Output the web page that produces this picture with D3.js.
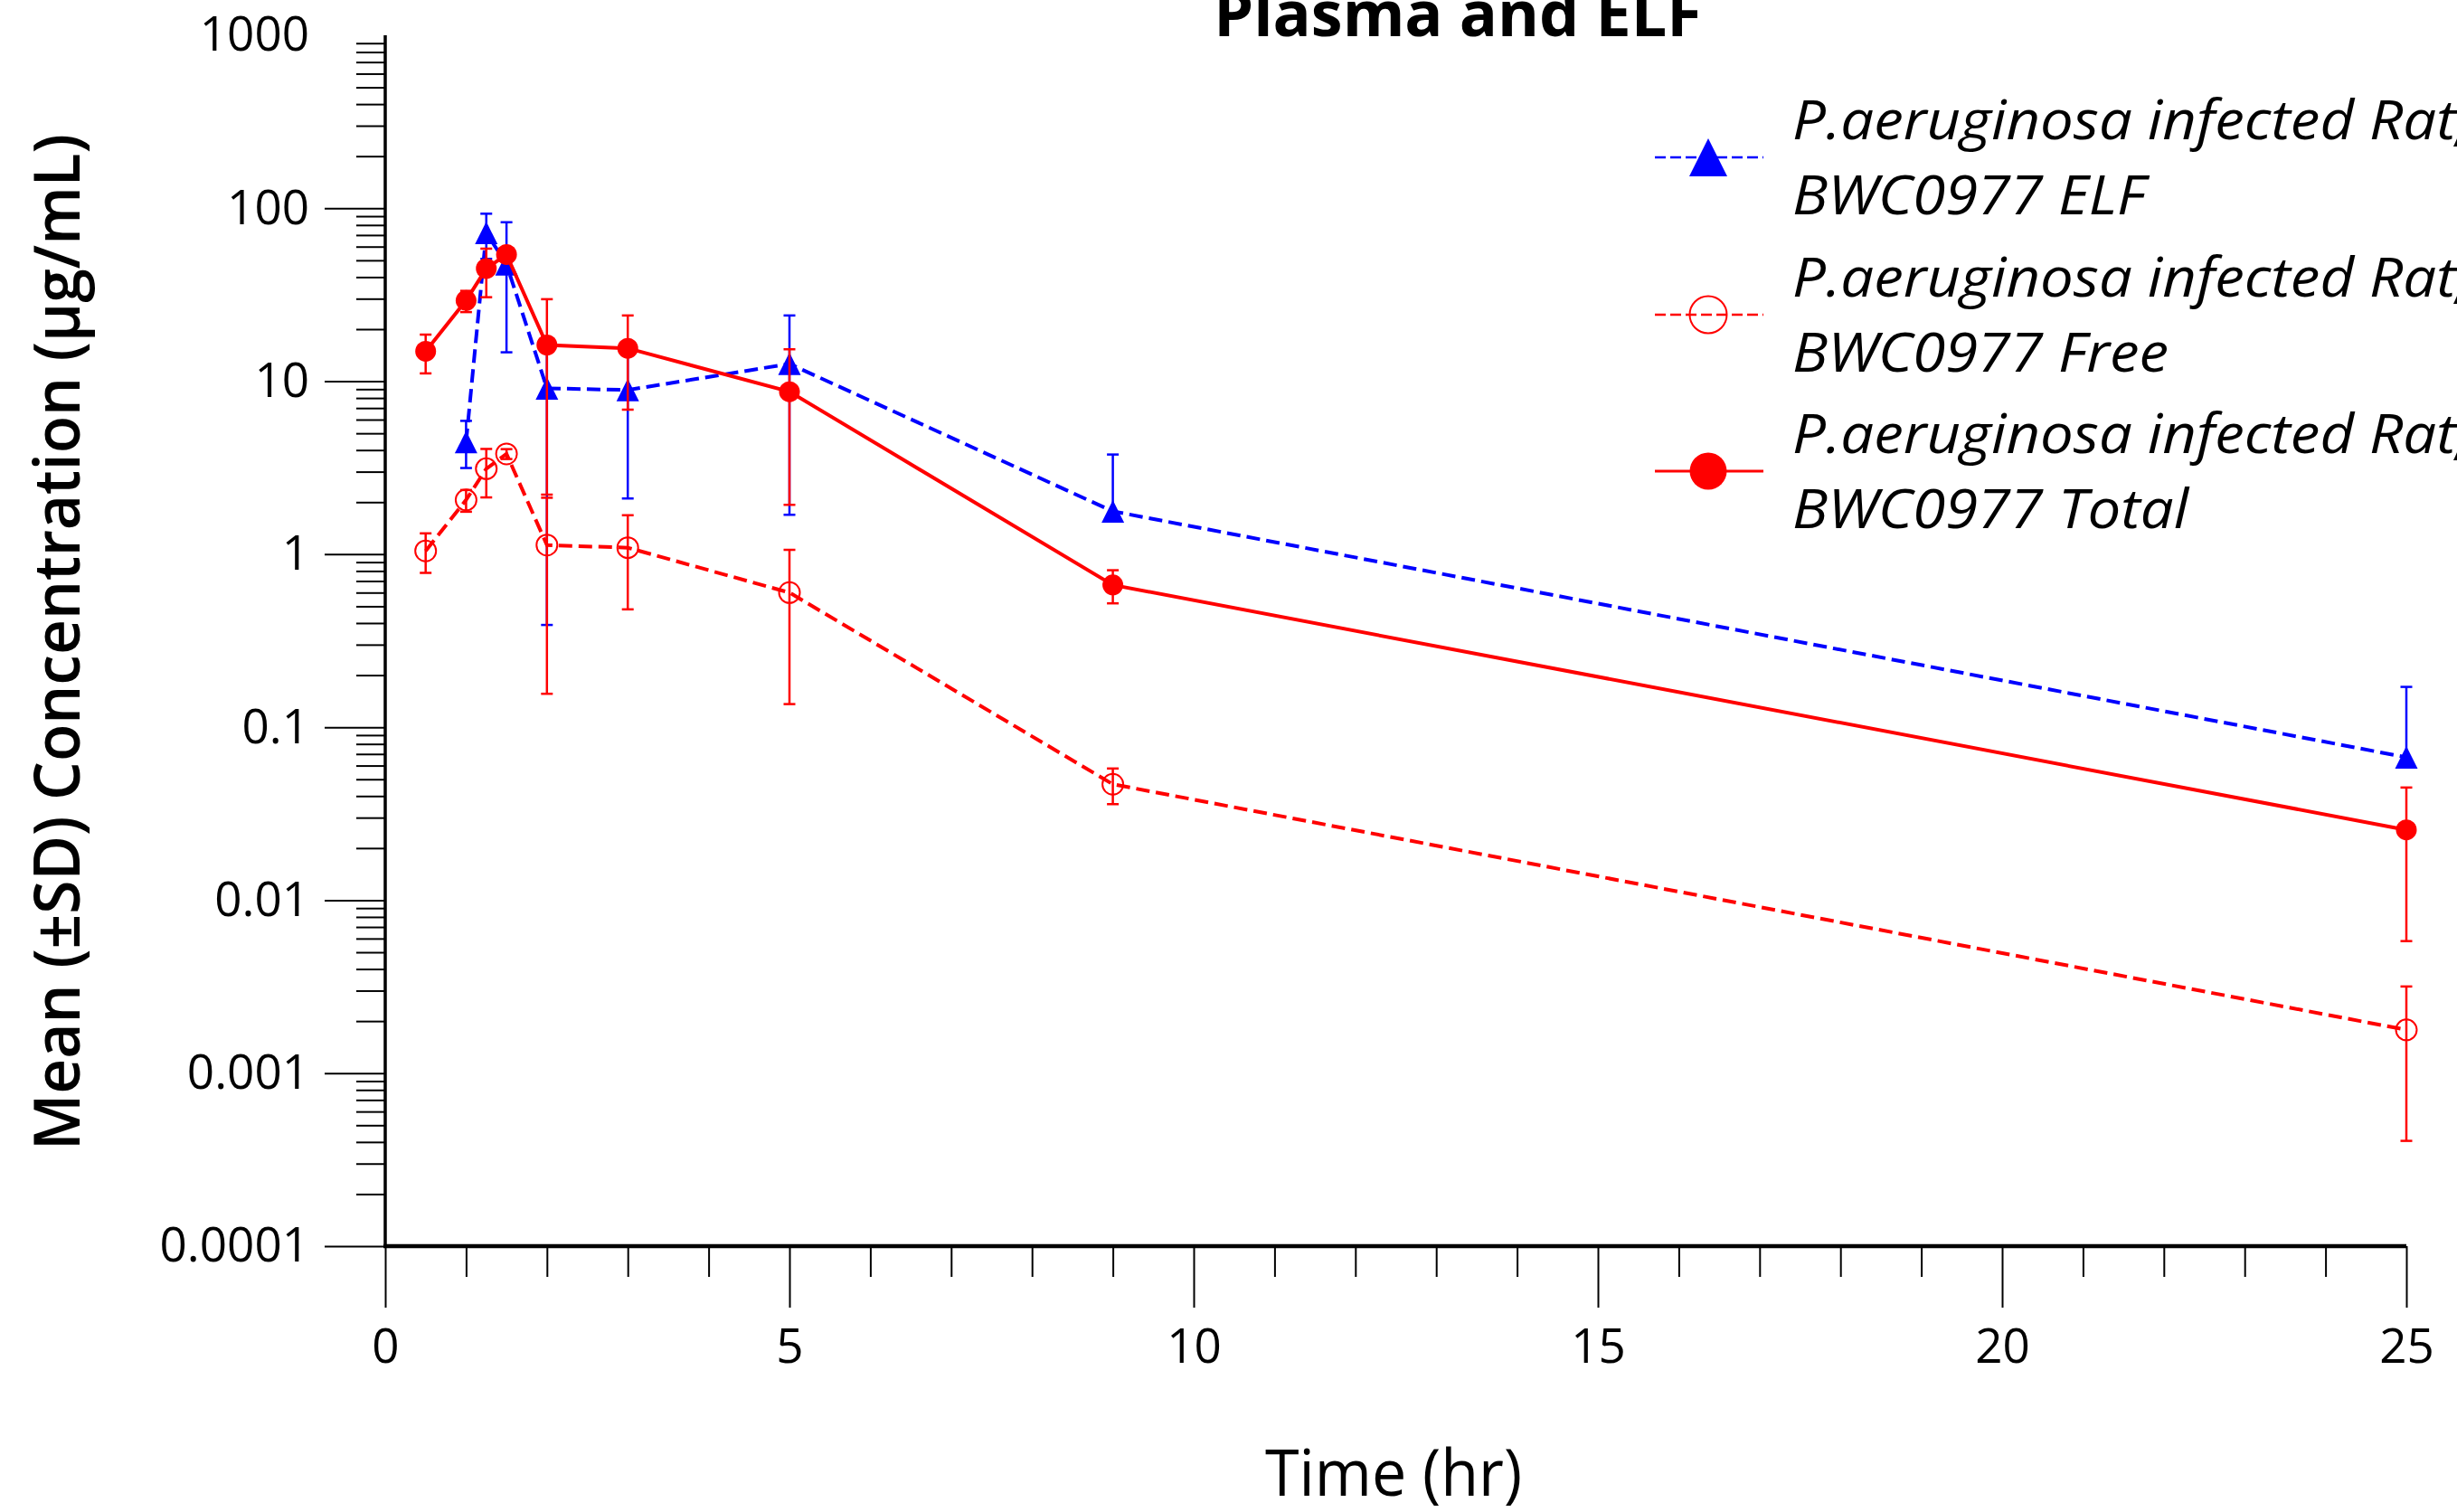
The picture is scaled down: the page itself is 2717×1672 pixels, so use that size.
<!DOCTYPE html>
<html>
<head>
<meta charset="utf-8">
<script src="https://cdn.jsdelivr.net/npm/d3@7"></script>
<style>
  body { margin: 0; background: #fff; }
  text { font-family: "Open Sans", "Noto Sans", sans-serif; }
</style>
</head>
<body>
<svg id="chart" width="2717" height="1672"></svg>
<script>
// values (ug/mL), SD bars as absolute upper/lower ends
var elfTime = [1, 1.25, 1.5, 2, 3, 5, 9, 25];
var elfMean = [4.45, 72, 47.5, 9.1, 8.9, 12.6, 1.77, 0.067];
var elfUpper = [5.9, 93, 83, 17.9, 15.8, 24.0, 3.77, 0.171];
var elfLower = [3.15, 51, 14.7, 0.39, 2.1, 1.69, null, null];

var freeTime = [0.5, 1, 1.25, 1.5, 2, 3, 5, 9, 25];
var freeMean = [1.045, 2.06, 3.12, 3.8, 1.13, 1.09, 0.60, 0.0468, 0.00178];
var freeUpper = [1.32, 2.35, 4.06, 4.05, 2.12, 1.68, 1.06, 0.0577, 0.00317];
var freeLower = [0.78, 1.76, 2.13, 3.55, 0.156, 0.48, 0.136, 0.0359, 0.000406];

var totalTime = [0.5, 1, 1.25, 1.5, 2, 3, 5, 9, 25];
var totalMean = [14.9, 29.3, 44.8, 54, 16.2, 15.5, 8.7, 0.664, 0.0255];
var totalUpper = [18.6, 33.3, 58.4, 58, 29.8, 24.0, 15.3, 0.808, 0.0448];
var totalLower = [11.1, 25.1, 30.6, 50, 2.21, 6.85, 1.93, 0.52, 0.0058];

var seriesNames = ["P.aeruginosa infected Rat,", "P.aeruginosa infected Rat,", "P.aeruginosa infected Rat,"];
var seriesSub = ["BWC0977 ELF", "BWC0977 Free", "BWC0977 Total"];

var xTicks = [0, 5, 10, 15, 20, 25];
var yTicks = [0.0001, 0.001, 0.01, 0.1, 1, 10, 100, 1000];
var yTickLabels = ["0.0001", "0.001", "0.01", "0.1", "1", "10", "100", "1000"];

var svg = d3.select("#chart");

var x = d3.scaleLinear().domain([0, 25]).range([426, 2661]);
var y = d3.scaleLog().domain([0.0001, 1000]).range([1378, 39]);

function zip(t, m, u, l) {
  return t.map(function(d, i) { return {t: d, m: m[i], u: u[i], l: l[i]}; });
}

var series = [
  {data: zip(elfTime, elfMean, elfUpper, elfLower), color: "#0000ff", dash: "15,7", marker: "triangle"},
  {data: zip(freeTime, freeMean, freeUpper, freeLower), color: "#ff0000", dash: "15,7", marker: "open"},
  {data: zip(totalTime, totalMean, totalUpper, totalLower), color: "#ff0000", dash: null, marker: "dot"}
];

// ---- axes ----
var minorY = [];
for (var e = -4; e < 3; e++) {
  for (var k = 2; k <= 9; k++) minorY.push(k * Math.pow(10, e));
}
var minorX = d3.range(0, 26).filter(function(d) { return d % 5 != 0; });

var yMinor = svg.append("g")
  .attr("transform", "translate(426,0)")
  .call(d3.axisLeft(y).tickValues(minorY).tickSize(32).tickFormat(""));

var yMajor = svg.append("g")
  .attr("transform", "translate(426,0)")
  .call(d3.axisLeft(y).tickValues(yTicks).tickSize(67).tickPadding(17)
    .tickFormat(function(d, i) { return yTickLabels[i]; }));
// the 1000 line has a label but no long tick in the original
yMajor.selectAll(".tick line").filter(function(d) { return d >= 1000; }).remove();

var xMinor = svg.append("g")
  .attr("transform", "translate(0,1378)")
  .call(d3.axisBottom(x).tickValues(minorX).tickSize(34).tickFormat(""));

var xMajor = svg.append("g")
  .attr("transform", "translate(0,1378)")
  .call(d3.axisBottom(x).tickValues(xTicks).tickSize(68).tickPadding(23));

[yMinor, yMajor, xMinor, xMajor].forEach(function(g) {
  g.select(".domain").remove();
  g.selectAll(".tick line").attr("stroke", "#000").attr("stroke-width", 2);
  g.selectAll("text")
    .attr("fill", "#000")
    .attr("font-size", 53)
    .attr("font-family", "'Open Sans', 'Noto Sans', sans-serif");
});

svg.append("line")
  .attr("x1", 426).attr("x2", 426)
  .attr("y1", y(1000)).attr("y2", y(0.0001) + 2)
  .attr("stroke", "#000").attr("stroke-width", 3.5);

svg.append("line")
  .attr("x1", 424).attr("x2", x(25))
  .attr("y1", 1378).attr("y2", 1378)
  .attr("stroke", "#000").attr("stroke-width", 4.5);

// ---- titles ----
svg.append("text")
  .attr("x", 1612).attr("y", 40)
  .attr("text-anchor", "middle")
  .attr("font-size", 70).attr("font-weight", "bold")
  .text("Plasma and ELF");

svg.append("text")
  .attr("transform", "translate(88,710) rotate(-90)")
  .attr("text-anchor", "middle")
  .attr("font-size", 71).attr("font-weight", 600)
  .attr("textLength", 1124).attr("lengthAdjust", "spacingAndGlyphs")
  .text("Mean (\u00b1SD) Concentration (\u00b5g/mL)");

svg.append("text")
  .attr("x", 1541).attr("y", 1654)
  .attr("text-anchor", "middle")
  .attr("font-size", 72)
  .attr("textLength", 284).attr("lengthAdjust", "spacingAndGlyphs")
  .text("Time (hr)");

// ---- markers ----
function drawMarker(g, type, cx, cy, r, color) {
  if (type == "triangle") {
    g.append("path")
      .attr("d", "M" + cx + "," + (cy - r) + "L" + (cx + r) + "," + (cy + r) + "L" + (cx - r) + "," + (cy + r) + "Z")
      .attr("fill", color);
  } else if (type == "open") {
    g.append("circle")
      .attr("cx", cx).attr("cy", cy).attr("r", r)
      .attr("fill", "none").attr("stroke", color).attr("stroke-width", 2);
  } else {
    g.append("circle")
      .attr("cx", cx).attr("cy", cy).attr("r", r)
      .attr("fill", color);
  }
}

var line = d3.line()
  .x(function(d) { return x(d.t); })
  .y(function(d) { return y(d.m); });

series.forEach(function(s) {
  var g = svg.append("g");

  // SD bars, caps only where the end is defined
  s.data.forEach(function(d) {
    var top = d.u != null ? d.u : d.m,
        bot = d.l != null ? d.l : d.m;
    g.append("line")
      .attr("x1", x(d.t)).attr("x2", x(d.t))
      .attr("y1", y(top)).attr("y2", y(bot))
      .attr("stroke", s.color).attr("stroke-width", 2.5);
    [d.u, d.l].forEach(function(v) {
      if (v == null) return;
      g.append("line")
        .attr("x1", x(d.t) - 6.5).attr("x2", x(d.t) + 6.5)
        .attr("y1", y(v)).attr("y2", y(v))
        .attr("stroke", s.color).attr("stroke-width", 2.5);
    });
  });

  g.append("path")
    .datum(s.data)
    .attr("d", line)
    .attr("fill", "none")
    .attr("stroke", s.color)
    .attr("stroke-width", 4)
    .attr("stroke-dasharray", s.dash);

  s.data.forEach(function(d) {
    drawMarker(g, s.marker, x(d.t), y(d.m), s.marker == "triangle" ? 12.5 : 11.5, s.color);
  });
});

// ---- legend ----
var legendY = [174, 348, 521];
series.forEach(function(s, i) {
  var g = svg.append("g");
  g.append("line")
    .attr("x1", 1830).attr("x2", 1950)
    .attr("y1", legendY[i]).attr("y2", legendY[i])
    .attr("stroke", s.color)
    .attr("stroke-width", s.dash ? 2.5 : 3)
    .attr("stroke-dasharray", s.dash ? "12,5" : null);
  drawMarker(g, s.marker, 1889, legendY[i], s.marker == "triangle" ? 21 : 20.5, s.color);
  [seriesNames[i], seriesSub[i]].forEach(function(str, j) {
    var t = g.append("text")
      .attr("x", 1982).attr("y", legendY[i] - 20 + j * 83)
      .attr("font-size", 61).attr("font-style", "italic")
      .text(str);
    // original face runs a little wider than Open Sans italic
    var w = t.node().getComputedTextLength();
    t.attr("textLength", w * 1.07).attr("lengthAdjust", "spacingAndGlyphs");
  });
});
</script>
</body>
</html>
